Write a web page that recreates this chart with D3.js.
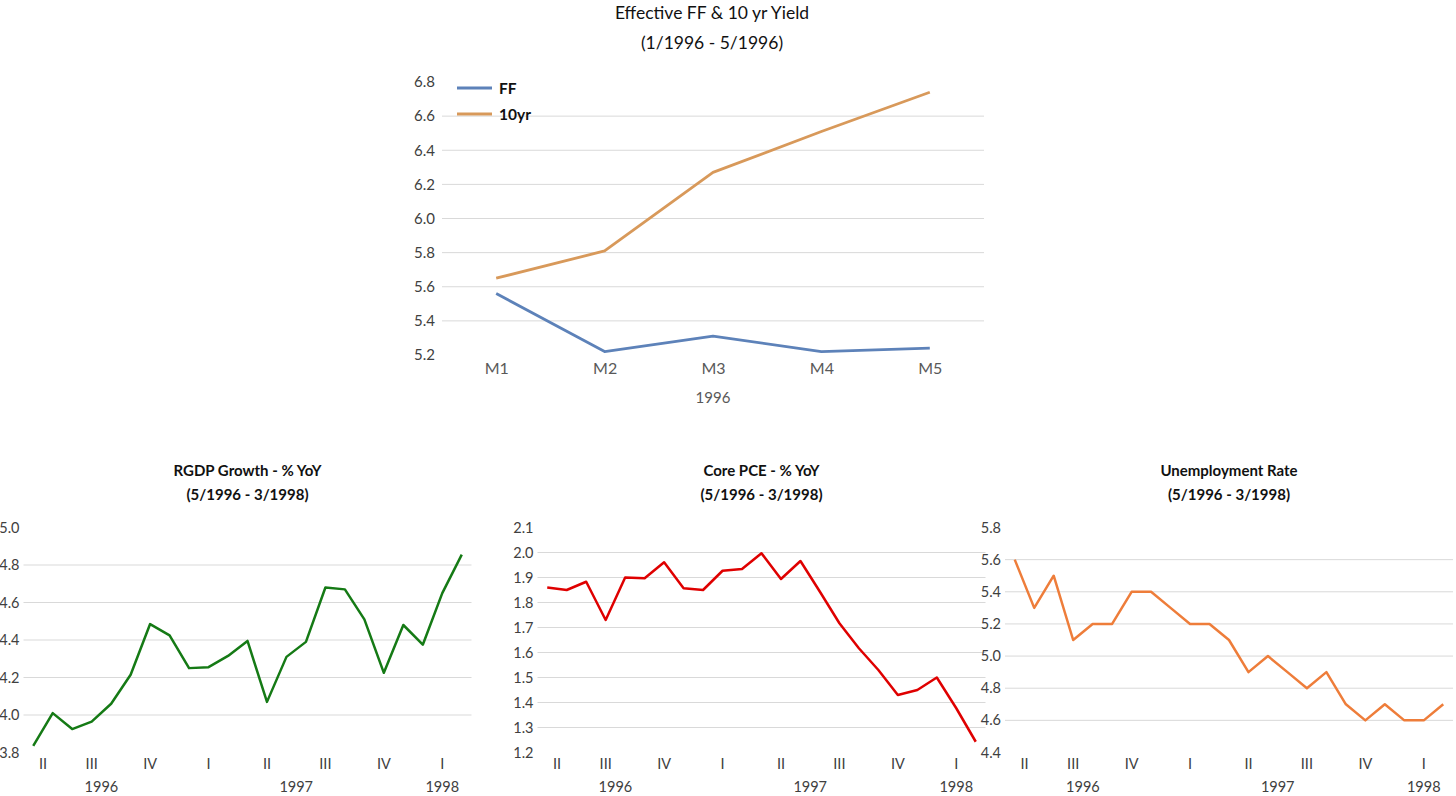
<!DOCTYPE html>
<html>
<head>
<meta charset="utf-8">
<script src="https://cdn.jsdelivr.net/npm/d3@7"></script>
<style>
  body { margin: 0; background: #fff; }
  svg { display: block; font-family: Lato, "Open Sans", sans-serif; }
</style>
</head>
<body>
<div id="chart"></div>
<script>
// Top chart data (monthly, Jan-May 1996)
const ffMonths = ['M1', 'M2', 'M3', 'M4', 'M5'];
const ffRate = [5.56, 5.22, 5.31, 5.22, 5.24];
const tenYearYield = [5.65, 5.81, 6.27, 6.51, 6.74];
const topTicks = [5.2, 5.4, 5.6, 5.8, 6.0, 6.2, 6.4, 6.6, 6.8];

// Bottom charts data (monthly, 5/1996 - 3/1998)
const months = [
  '1996-05', '1996-06', '1996-07', '1996-08', '1996-09', '1996-10', '1996-11', '1996-12',
  '1997-01', '1997-02', '1997-03', '1997-04', '1997-05', '1997-06', '1997-07', '1997-08',
  '1997-09', '1997-10', '1997-11', '1997-12', '1998-01', '1998-02', '1998-03'
];
const quarterNames = ['I', 'II', 'III', 'IV'];

const rgdpGrowth = [3.835, 4.01, 3.925, 3.965, 4.06, 4.215, 4.485, 4.425, 4.25, 4.255, 4.315, 4.395,
  4.07, 4.31, 4.39, 4.68, 4.67, 4.51, 4.225, 4.48, 4.375, 4.65, 4.855];
const rgdpTicks = [3.8, 4.0, 4.2, 4.4, 4.6, 4.8, 5.0];

const corePce = [1.86, 1.85, 1.883, 1.73, 1.90, 1.897, 1.961, 1.857, 1.85, 1.927, 1.934, 1.997,
  1.894, 1.966, 1.843, 1.717, 1.617, 1.53, 1.43, 1.45, 1.50, 1.377, 1.243];
const pceTicks = [1.2, 1.3, 1.4, 1.5, 1.6, 1.7, 1.8, 1.9, 2.0, 2.1];

const unemployment = [5.6, 5.3, 5.5, 5.1, 5.2, 5.2, 5.4, 5.4, 5.3, 5.2, 5.2, 5.1,
  4.9, 5.0, 4.9, 4.8, 4.9, 4.7, 4.6, 4.7, 4.6, 4.6, 4.7];
const unempTicks = [4.4, 4.6, 4.8, 5.0, 5.2, 5.4, 5.6, 5.8];

const width = 1456;
const height = 796;
const gridColor = '#d9d9d9';
const labelColor = '#404040';
const catColor = '#595959';

const svg = d3.select('#chart').append('svg')
  .attr('width', width)
  .attr('height', height);

// Top chart

function drawTopChart() {
  const left = 442, right = 984, top = 82, bottom = 355;
  const x = d3.scalePoint().domain(ffMonths).range([left, right]).padding(0.5);
  const y = d3.scaleLinear().domain([5.2, 6.8]).range([bottom, top]);
  const g = svg.append('g');

  g.append('text')
    .attr('x', 712).attr('y', 19)
    .attr('text-anchor', 'middle')
    .attr('font-size', 17.5).attr('fill', '#111')
    .text('Effective FF & 10 yr Yield');
  g.append('text')
    .attr('x', 712).attr('y', 49)
    .attr('text-anchor', 'middle')
    .attr('font-size', 17.5).attr('fill', '#111')
    .text('(1/1996 - 5/1996)');

  // gridlines (interior ticks only)
  g.selectAll('.grid').data(topTicks.slice(1, -1)).enter()
    .append('line')
    .attr('x1', left).attr('x2', right)
    .attr('y1', (d) => y(d)).attr('y2', (d) => y(d))
    .attr('stroke', gridColor).attr('stroke-width', 1);

  const yAxis = d3.axisLeft(y).tickValues(topTicks).tickFormat(d3.format('.1f')).tickSize(0).tickPadding(7);
  const ya = g.append('g').attr('transform', `translate(${left},0)`).call(yAxis);
  ya.select('.domain').remove();
  ya.selectAll('text').attr('fill', labelColor).attr('font-size', 15).attr('font-family', 'Lato');

  const xAxis = d3.axisBottom(x).tickSize(0).tickPadding(8);
  const xa = g.append('g').attr('transform', `translate(0,${bottom})`).call(xAxis);
  xa.select('.domain').remove();
  xa.selectAll('text').attr('fill', catColor).attr('font-size', 16).attr('font-family', 'Lato');

  g.append('text')
    .attr('x', (left + right) / 2).attr('y', 403)
    .attr('text-anchor', 'middle')
    .attr('font-size', 15).attr('fill', catColor)
    .text('1996');

  const line = d3.line().x((d, i) => x(ffMonths[i])).y((d) => y(d));
  const series = [
    { name: 'FF', values: ffRate, color: '#5d82b9' },
    { name: '10yr', values: tenYearYield, color: '#d8995a' }
  ];
  series.forEach((s) => {
    g.append('path')
      .datum(s.values)
      .attr('d', line)
      .attr('fill', 'none')
      .attr('stroke', s.color)
      .attr('stroke-width', 2.8)
      .attr('stroke-linejoin', 'round');
  });

  // legend
  series.forEach((s, i) => {
    const ly = 88 + i * 26;
    g.append('line')
      .attr('x1', 457).attr('x2', 492)
      .attr('y1', ly).attr('y2', ly)
      .attr('stroke', s.color).attr('stroke-width', 2.8);
    g.append('text')
      .attr('x', 499).attr('y', ly + 5.5)
      .attr('font-size', 15.5).attr('font-weight', 'bold').attr('fill', '#111')
      .text(s.name);
  });
}

// Bottom charts

function drawMonthlyChart(opts) {
  const { left, right, title, values, ticks, color } = opts;
  const top = 527.5, bottom = 752.5;
  const x = d3.scalePoint().domain(months).range([left, right]).padding(0.5);
  const y = d3.scaleLinear().domain(d3.extent(ticks)).range([bottom, top]);
  const g = svg.append('g');
  const cx = (left + right) / 2;

  g.append('text')
    .attr('x', cx).attr('y', 476)
    .attr('text-anchor', 'middle')
    .attr('font-size', 15).attr('font-weight', 'bold').attr('fill', '#111')
    .text(title);
  g.append('text')
    .attr('x', cx).attr('y', 500)
    .attr('text-anchor', 'middle')
    .attr('font-size', 15).attr('font-weight', 'bold').attr('fill', '#111')
    .text('(5/1996 - 3/1998)');

  g.selectAll('.grid').data(ticks.slice(1, -1)).enter()
    .append('line')
    .attr('x1', left).attr('x2', right)
    .attr('y1', (d) => y(d)).attr('y2', (d) => y(d))
    .attr('stroke', gridColor).attr('stroke-width', 1);

  const yAxis = d3.axisLeft(y).tickValues(ticks).tickFormat(d3.format('.1f')).tickSize(0).tickPadding(4);
  const ya = g.append('g').attr('transform', `translate(${left},0)`).call(yAxis);
  ya.select('.domain').remove();
  ya.selectAll('text').attr('fill', labelColor).attr('font-size', 14.5).attr('font-family', 'Lato');

  // quarter and year group labels
  const parse = d3.timeParse('%Y-%m');
  const quarters = d3.groups(months, (m) => {
    const d = parse(m);
    return d.getFullYear() + '-' + Math.floor(d.getMonth() / 3);
  });
  quarters.forEach(([key, ms]) => {
    const q = +key.split('-')[1];
    const mid = (x(ms[0]) + x(ms[ms.length - 1])) / 2;
    g.append('text')
      .attr('x', mid).attr('y', 769)
      .attr('text-anchor', 'middle')
      .attr('font-size', 14.5).attr('fill', labelColor)
      .text(quarterNames[q]);
  });
  const years = d3.groups(months, (m) => m.slice(0, 4));
  years.forEach(([yr, ms]) => {
    const mid = (x(ms[0]) + x(ms[ms.length - 1])) / 2;
    g.append('text')
      .attr('x', mid).attr('y', 792)
      .attr('text-anchor', 'middle')
      .attr('font-size', 14.5).attr('fill', labelColor)
      .text(yr);
  });

  const line = d3.line().x((d, i) => x(months[i])).y((d) => y(d));
  g.append('path')
    .datum(values)
    .attr('d', line)
    .attr('fill', 'none')
    .attr('stroke', color)
    .attr('stroke-width', 2.5)
    .attr('stroke-linejoin', 'round');
}

drawTopChart();
drawMonthlyChart({ left: 23.5, right: 471.5, title: 'RGDP Growth - % YoY', values: rgdpGrowth, ticks: rgdpTicks, color: '#157a15' });
drawMonthlyChart({ left: 537.5, right: 985.5, title: 'Core PCE - % YoY', values: corePce, ticks: pceTicks, color: '#df0000' });
drawMonthlyChart({ left: 1005, right: 1453, title: 'Unemployment Rate', values: unemployment, ticks: unempTicks, color: '#ee7d3a' });
</script>
</body>
</html>
